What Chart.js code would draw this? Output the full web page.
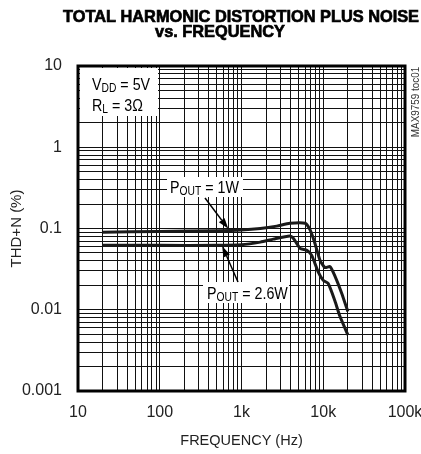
<!DOCTYPE html>
<html>
<head>
<meta charset="utf-8">
<script src="https://cdn.jsdelivr.net/npm/chart.js@4/dist/chart.umd.min.js"></script>
<style>
    html, body { margin: 0; padding: 0; background: #fff; }
    #wrap { width: 421px; height: 454px; }
</style>
</head>
<body>
<div id="wrap"><canvas id="thdChart" width="421" height="454"></canvas></div>
<script>
// Valeurs (Hz, %)
const freq1W = [20, 100, 500, 1000, 1700, 2700, 3900, 6000, 6900, 7900, 9100, 10500, 12100, 13900, 16800, 20000];
const thd1W = [0.090, 0.092, 0.094, 0.096, 0.100, 0.107, 0.116, 0.116, 0.096, 0.066, 0.041, 0.033, 0.034, 0.026, 0.016, 0.0095];

const freq26W = [20, 100, 500, 1000, 1700, 2450, 3900, 4300, 5200, 6300, 7200, 8700, 10000, 11500, 13900, 16000, 20000];
const thd26W = [0.062, 0.062, 0.062, 0.063, 0.068, 0.074, 0.081, 0.076, 0.057, 0.054, 0.047, 0.029, 0.023, 0.021, 0.0128, 0.0083, 0.0049];

const xTickLabels = {10: "10", 100: "100", 1000: "1k", 10000: "10k", 100000: "100k"};
const yTickLabels = {10: "10", 1: "1", 0.1: "0.1", 0.01: "0.01", 0.001: "0.001"};

const FONT = "'Liberation Sans', Arial, sans-serif";
const SQUEEZE = 0.84; // police étroite simulée

function isDecade(v) {
    const l = Math.log10(v);
    return Math.abs(l - Math.round(l)) < 1e-6;
}
function keepIntegerSteps(scale) {
    // on garde 1..9 x 10^n, sans les graduations 1.5
    scale.ticks = scale.ticks.filter(t => {
        const m = t.value / Math.pow(10, Math.floor(Math.log10(t.value) + 1e-9));
        return Math.abs(m - Math.round(m)) < 1e-6;
    });
}
function labelFor(map, v) {
    if (!isDecade(v)) return "";
    const key = Object.keys(map).find(k => Math.abs(Math.log10(+k) - Math.log10(v)) < 1e-6);
    return key !== undefined ? map[key] : "";
}

function drawRuns(ctx, runs, x, y, size) {
    ctx.save();
    ctx.translate(x, y);
    ctx.scale(SQUEEZE, 1);
    let cx = 0;
    runs.forEach(r => {
        const s = r.sub ? size * 0.72 : size;
        ctx.font = s + "px " + FONT;
        ctx.fillText(r.t, cx, r.sub ? 1.5 : 0);
        cx += ctx.measureText(r.t).width;
    });
    ctx.restore();
}

function squeezedLine(ctx, text, cx, y, width, heavy) {
    const w = ctx.measureText(text).width;
    ctx.save();
    ctx.translate(cx, y);
    ctx.scale(width / w, 1);
    ctx.fillText(text, 0, 0);
    if (heavy) {
        ctx.lineWidth = 0.7;
        ctx.strokeText(text, 0, 0);
    }
    ctx.restore();
    return width / w;
}

function arrow(ctx, x1, y1, x2, y2) {
    const a = Math.atan2(y2 - y1, x2 - x1);
    const len = 11, w = 3.5;
    const bx = x2 - len * Math.cos(a), by = y2 - len * Math.sin(a);
    ctx.beginPath();
    ctx.moveTo(x1, y1);
    ctx.lineTo(bx, by);
    ctx.lineWidth = 1.5;
    ctx.stroke();
    ctx.beginPath();
    ctx.moveTo(x2, y2);
    ctx.lineTo(bx + w * Math.sin(a), by - w * Math.cos(a));
    ctx.lineTo(bx - w * Math.sin(a), by + w * Math.cos(a));
    ctx.closePath();
    ctx.fill();
}

const decorations = {
    id: "decorations",
    afterDraw(chart) {
        const ctx = chart.ctx;
        const area = chart.chartArea;
        const xs = chart.scales.x, ys = chart.scales.y;
        ctx.save();
        ctx.fillStyle = "#000";
        ctx.strokeStyle = "#000";

        // Cadre épais
        ctx.lineWidth = 3;
        ctx.strokeRect(area.left, area.top, area.right - area.left, area.bottom - area.top);

        // Titre
        ctx.textAlign = "center";
        ctx.textBaseline = "alphabetic";
        ctx.font = "bold 17px " + FONT;
        const k = squeezedLine(ctx, "TOTAL HARMONIC DISTORTION PLUS NOISE", 241, 22, 356, true);
        const w2 = ctx.measureText("vs. FREQUENCY").width * k;
        squeezedLine(ctx, "vs. FREQUENCY", 220, 37, w2, true);

        // Conditions
        ctx.textAlign = "left";
        ctx.fillStyle = "#fff";
        ctx.fillRect(area.left + 2, area.top + 2, 78, 48);
        ctx.fillStyle = "#000";
        drawRuns(ctx, [{t: "V"}, {t: "DD", sub: true}, {t: " = 5V"}], 92, 90, 17);
        drawRuns(ctx, [{t: "R"}, {t: "L", sub: true}, {t: " = 3\u03A9"}], 92, 111, 17);

        // Étiquettes des courbes
        ctx.fillStyle = "#fff";
        ctx.fillRect(167, 177, 76, 20);
        ctx.fillRect(203, 282, 86, 21);
        ctx.fillStyle = "#000";
        drawRuns(ctx, [{t: "P"}, {t: "OUT", sub: true}, {t: " = 1W"}], 170, 193, 17);
        drawRuns(ctx, [{t: "P"}, {t: "OUT", sub: true}, {t: " = 2.6W"}], 207, 299, 17);

        arrow(ctx, 205, 198, xs.getPixelForValue(690), ys.getPixelForValue(0.099));
        arrow(ctx, 238, 282, xs.getPixelForValue(580), ys.getPixelForValue(0.061));

        // Référence latérale
        ctx.translate(419, 102);
        ctx.rotate(-Math.PI / 2);
        ctx.scale(0.9, 1);
        ctx.textAlign = "center";
        ctx.fillStyle = "#333";
        ctx.font = "11px " + FONT;
        ctx.fillText("MAX9759 toc01", 0, 0);
        ctx.restore();
    }
};

const ctx = document.getElementById("thdChart");
new Chart(ctx, {
    type: "line",
    data: {
        datasets: [
            {
                label: "POUT = 1W",
                data: freq1W.map((f, i) => ({x: f, y: thd1W[i]})),
                borderColor: "#1a1a1a",
                borderWidth: 3,
                pointRadius: 0,
                tension: 0.2
            },
            {
                label: "POUT = 2.6W",
                data: freq26W.map((f, i) => ({x: f, y: thd26W[i]})),
                borderColor: "#1a1a1a",
                borderWidth: 3,
                pointRadius: 0,
                tension: 0.2
            }
        ]
    },
    options: {
        responsive: false,
        animation: false,
        layout: { padding: { top: 66, right: 16, left: 0, bottom: 0 } },
        plugins: {
            legend: { display: false },
            tooltip: { enabled: false }
        },
        scales: {
            x: {
                type: "logarithmic",
                min: 10,
                max: 100000,
                afterBuildTicks: keepIntegerSteps,
                afterFit: s => { s.height = 63; s.paddingLeft = 0; s.paddingRight = 0; },
                grid: { color: "#111", lineWidth: 1, drawTicks: false },
                border: { display: false },
                ticks: {
                    autoSkip: false,
                    maxRotation: 0,
                    padding: 12,
                    color: "#222",
                    font: { family: FONT, size: 16 },
                    callback: v => labelFor(xTickLabels, v)
                },
                title: {
                    display: true,
                    text: "FREQUENCY (Hz)",
                    color: "#222",
                    font: { family: FONT, size: 14.5 },
                    padding: { top: 0, bottom: 4 }
                }
            },
            y: {
                type: "logarithmic",
                min: 0.001,
                max: 10,
                afterBuildTicks: keepIntegerSteps,
                afterFit: s => { s.width = 78; s.paddingTop = 0; s.paddingBottom = 0; },
                grid: { color: "#111", lineWidth: 1, drawTicks: false },
                border: { display: false },
                ticks: {
                    autoSkip: false,
                    padding: 16,
                    color: "#222",
                    font: { family: FONT, size: 16 },
                    callback: v => labelFor(yTickLabels, v)
                },
                title: {
                    display: true,
                    text: "THD+N (%)",
                    color: "#222",
                    font: { family: FONT, size: 15 },
                    padding: { top: 8, bottom: 0 }
                }
            }
        }
    },
    plugins: [decorations]
});
</script>
</body>
</html>
